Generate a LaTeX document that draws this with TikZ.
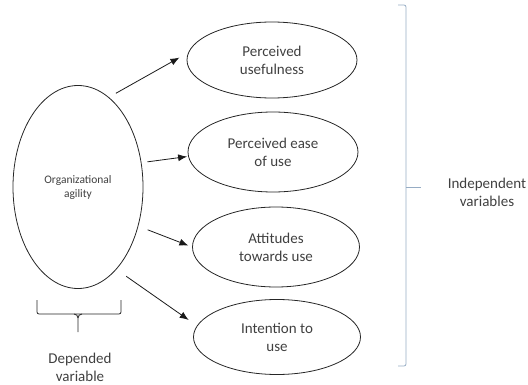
\documentclass[tikz,border=0pt]{standalone}
\usepackage{fontspec}
\setmainfont{Carlito}
\usetikzlibrary{shapes.geometric,arrows.meta}

\definecolor{bracecol}{RGB}{150,172,196}
\definecolor{textcol}{RGB}{64,64,64}

\begin{document}
\begin{tikzpicture}[x=1pt,y=-1pt,
    var/.style={ellipse,draw=black!85,line width=0.8pt,inner sep=0pt,align=center,
      text=textcol,font=\fontsize{15}{18}\selectfont},
    link/.style={-{Latex[length=9pt,width=7pt]},line width=0.8pt,black!90},
    caption/.style={align=center,text=textcol,font=\fontsize{15}{18}\selectfont}]
  \useasboundingbox (0,0) rectangle (528,385);

  \node[var,minimum width=130pt,minimum height=203pt,font=\fontsize{11.5}{14}\selectfont] (agility) at (78,187) {Organizational\\agility};
  \node[var,minimum width=170pt,minimum height=76pt] (useful)    at (272,60)  {Perceived\\usefulness};
  \node[var,minimum width=170pt,minimum height=80pt] (ease)      at (273,152) {Perceived ease\\of use};
  \node[var,minimum width=167pt,minimum height=80pt] (attitude)  at (276,247) {Attitudes\\towards use};
  \node[var,minimum width=167pt,minimum height=75pt] (intention) at (277,337) {Intention to\\use};

  \path[link] (agility.71)  edge[shorten <=8pt,shorten >=10pt] (useful.175)
              (agility.21)  edge[shorten <=6pt,shorten >=1pt]  (ease.183)
              (agility.-33) edge[shorten <=10pt,shorten >=4pt] (attitude.west)
              (agility.-65) edge[shorten <=12pt,shorten >=10pt] (intention.172);

  % brace under the dependent variable
  \draw[line width=0.8pt,black!85,rounded corners=2pt] (37,300) -- (37,314) -- (121,314) -- (121,300);
  \draw[line width=0.8pt,black!85] (74,314) to[out=0,in=90] (78,318) -- (78,332);
  \draw[line width=0.8pt,black!85] (82,314) to[out=180,in=90] (78,318);
  \node[caption] (dependent) at (80,367) {Depended\\variable};

  % brace for the independent variables
  \draw[line width=0.8pt,bracecol,rounded corners=2pt] (398,5) -- (406,5) -- (406,366) -- (398,366);
  \draw[line width=0.8pt,bracecol] (406,187) -- (421,187);
  \node[caption] (independent) at (487,192) {Independent\\variables};
\end{tikzpicture}
\end{document}
